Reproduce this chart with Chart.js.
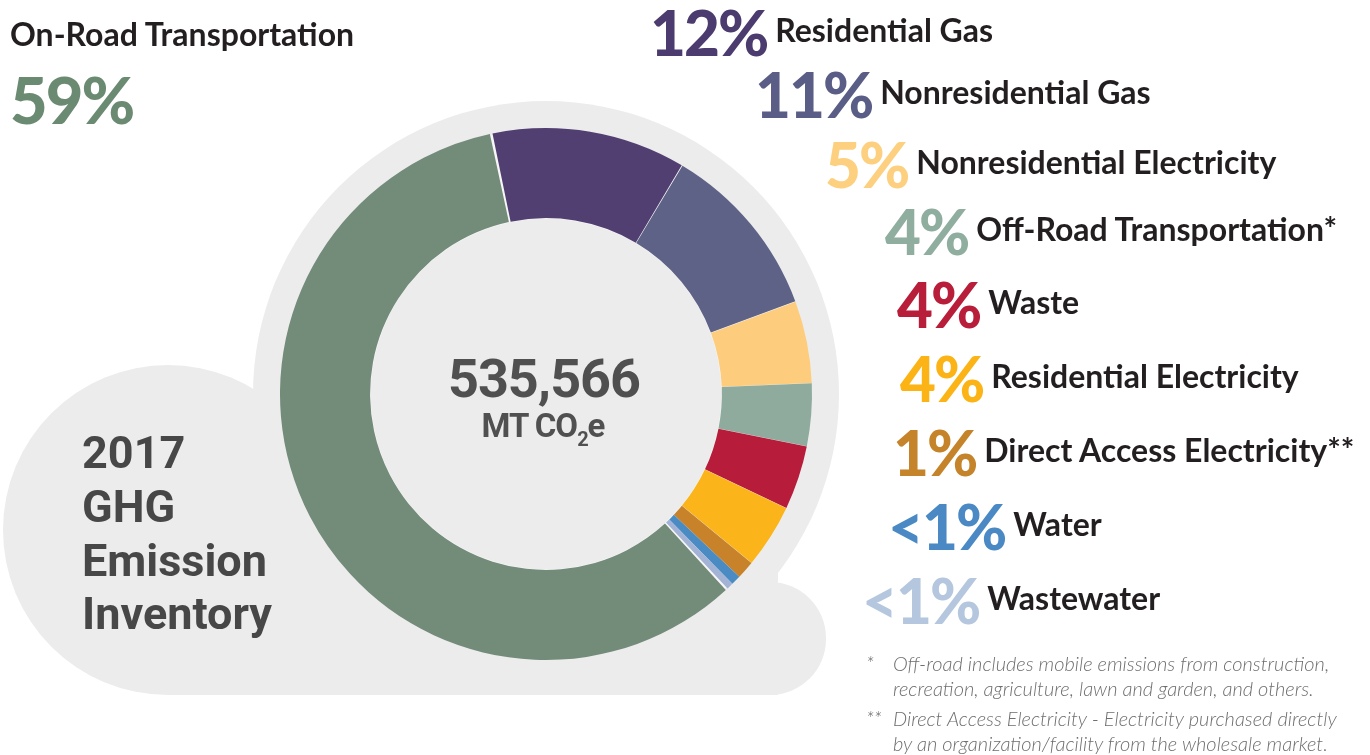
<!DOCTYPE html>
<html>
<head>
<meta charset="utf-8">
<script src="https://cdn.jsdelivr.net/npm/chart.js@4.4.0/dist/chart.umd.min.js"></script>
<style>
  body { margin: 0; width: 1370px; height: 755px; overflow: hidden; background: #fff; position: relative; }
  #ghgChart { position: absolute; left: 0; top: 0; }
  .t { position: absolute; white-space: nowrap; line-height: 1; }
</style>
</head>
<body>
<canvas id="ghgChart" width="1370" height="755"></canvas>
<script>
// sectors, clockwise from the top
const categories = ['Residential Gas', 'Nonresidential Gas', 'Nonresidential Electricity', 'Off-Road Transportation*',
    'Waste', 'Residential Electricity', 'Direct Access Electricity**', 'Water', 'Wastewater', 'On-Road Transportation'];
const shares = [11.8, 10.8, 5.0, 3.8, 3.9, 3.9, 1.1, 0.6, 0.4, 58.7];
const shareLabels = ['12%', '11%', '5%', '4%', '4%', '4%', '1%', '<1%', '<1%', '59%'];
const sliceColors = ['#523f72', '#5f6287', '#fdcd7d', '#8eab9d', '#b71c3a', '#fbb419', '#c8832a', '#4a8bc4', '#a3b3d6', '#738b79'];
const labelColors = ['#4b3b6e', '#5a5e86', '#fdd080', '#8fae9f', '#b81d3a', '#fbb315', '#c5832a', '#4a89c4', '#b5c7de', '#6b8a72'];
const totalLabel = '535,566';

const GRAY = '#ececec';

// baseline helper, per font ascent with line-height 1
const ASC = { Lato: 0.887, Roboto: 0.842 };
function put(html, x, base, size, font, css) {
    const d = document.createElement('div');
    d.className = 't';
    d.innerHTML = html;
    d.style.left = x + 'px';
    d.style.top = (base - ASC[font] * size) + 'px';
    d.style.fontSize = size + 'px';
    d.style.fontFamily = font;
    Object.assign(d.style, css || {});
    document.body.appendChild(d);
    return d;
}

// background cloud behind the ring
const cloudPlugin = {
    id: 'cloud',
    beforeDatasetsDraw(chart) {
        const arc = chart.getDatasetMeta(0).data[0];
        const cx = arc.x, cy = arc.y;
        const c = chart.ctx;
        c.save();
        c.fillStyle = GRAY;
        c.beginPath();
        c.arc(cx, cy, 293, 0, Math.PI * 2);
        c.fill();
        c.beginPath();
        c.arc(168, 530, 165, 0, Math.PI * 2);
        c.fill();
        c.fillRect(168, 530, 610, 165);
        c.beginPath();
        c.roundRect(700, 582, 126, 113, 56);
        c.fill();
        // gaps between slices read as near-white in the original
        c.fillStyle = '#f6f6f6';
        c.beginPath();
        c.arc(cx, cy, arc.outerRadius - 0.5, 0, Math.PI * 2);
        c.arc(cx, cy, arc.innerRadius + 0.5, 0, Math.PI * 2, true);
        c.fill();
        c.restore();
    }
};

new Chart(document.getElementById('ghgChart'), {
    type: 'doughnut',
    data: {
        labels: categories,
        datasets: [{
            data: shares,
            backgroundColor: sliceColors,
            borderWidth: 0,
            spacing: 2
        }]
    },
    options: {
        responsive: false,
        animation: false,
        cutout: '66%',
        rotation: -11.7,
        layout: { padding: { left: 280, right: 558, top: 128, bottom: 95 } },
        plugins: {
            legend: { display: false },
            tooltip: { enabled: false }
        }
    },
    plugins: [cloudPlugin]
});

// right-hand labels
const rowX = [650, 755, 825, 885, 897, 900, 893, 888, 862];
const rowBase = [56, 118, 188, 255, 328, 402, 476, 550, 624];
for (let i = 0; i < 9; i++) {
    const p = put(shareLabels[i], rowX[i], rowBase[i], 62, 'Lato',
        { fontWeight: 900, color: labelColors[i], letterSpacing: '-2px' });
    const w = p.getBoundingClientRect().width;
    put(categories[i], rowX[i] + w + 8, rowBase[i] - 14, 32, 'Lato',
        { fontWeight: 700, color: '#231f20' });
}

// top-left headline
put(categories[9], 10, 46, 32, 'Lato', { fontWeight: 700, color: '#231f20' });
put(shareLabels[9], 10, 125, 65, 'Lato', { fontWeight: 900, color: labelColors[9], letterSpacing: '-2px' });

// centre total
const tot = put(totalLabel, 0, 397, 54, 'Roboto', { fontWeight: 700, color: '#505050', letterSpacing: '-1px' });
tot.style.left = (544 - tot.getBoundingClientRect().width / 2) + 'px';
const unit = put('MT CO<span style="font-size:20px;position:relative;top:9px">2</span>e', 0, 437, 33, 'Roboto',
    { fontWeight: 700, color: '#505050', letterSpacing: '-1px' });
unit.style.left = (543 - unit.getBoundingClientRect().width / 2) + 'px';

// title in the cloud
['2017', 'GHG', 'Emission', 'Inventory'].forEach((s, i) => {
    put(s, 82, [468, 522, 576, 629][i], 45, 'Roboto', { fontWeight: 700, color: '#474747' });
});

// footnotes
const noteCss = { fontStyle: 'italic', fontWeight: 300, color: '#6e6e6e' };
put('*', 866, 671, 20, 'Lato', noteCss);
put('Off-road includes mobile emissions from construction,', 893, 671, 20, 'Lato', noteCss);
put('recreation, agriculture, lawn and garden, and others.', 893, 696, 20, 'Lato', noteCss);
put('**', 866, 726, 20, 'Lato', noteCss);
put('Direct Access Electricity - Electricity purchased directly', 893, 726, 20, 'Lato', noteCss);
put('by an organization/facility from the wholesale market.', 893, 751, 20, 'Lato', noteCss);
</script>
</body>
</html>
